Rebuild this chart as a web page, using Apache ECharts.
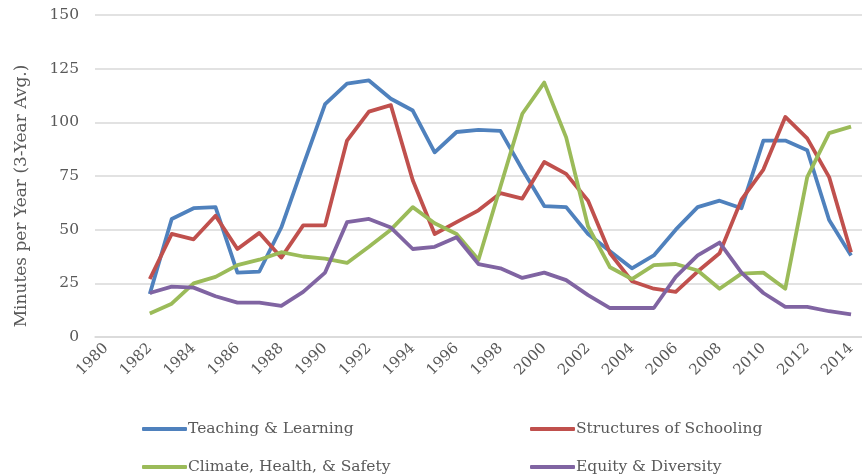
<!DOCTYPE html>
<html>
<head>
<meta charset="utf-8">
<script src="https://cdn.jsdelivr.net/npm/echarts@6/dist/echarts.min.js"></script>
<style>
  html, body { margin: 0; padding: 0; background: #fff; }
  #chart { width: 862px; height: 475px; }
</style>
</head>
<body>
<div id="chart"></div>
<script>
// years on the axis (data starts in 1982)
var years = [];
for (var y = 1980; y <= 2014; y++) years.push(String(y));

var teaching = [null, null,
  20, 55, 60, 60.5, 30, 30.5, 51, 80, 108.5, 118, 119.5, 111, 105.5, 86, 95.5, 96.5, 96,
  78, 61, 60.5, 48, 40, 32, 38, 50, 60.5, 63.5, 60, 91.5, 91.5, 87, 54.5, 38];
var structures = [null, null,
  27, 48, 45.5, 56.5, 41, 48.5, 37, 52, 52, 91.5, 105, 108, 73, 48, 53.5, 59, 67,
  64.5, 81.5, 76, 63.5, 39, 26, 22.5, 21, 30.5, 39, 64, 78, 102.5, 92.5, 74.5, 39.5];
var climate = [null, null,
  11, 15.5, 25, 28, 33.5, 36, 39.5, 37.5, 36.5, 34.5, 42, 50, 60.5, 53, 48, 36, 70,
  104, 118.5, 93, 51.5, 32.5, 27, 33.5, 34, 31, 22.5, 29.5, 30, 22.5, 74.5, 95, 98];
var equity = [null, null,
  20.5, 23.5, 23, 19, 16, 16, 14.5, 21, 30, 53.5, 55, 51, 41, 42, 46.5, 34, 32,
  27.5, 30, 26.5, 19.5, 13.5, 13.5, 13.5, 28, 38, 44, 30, 20.5, 14, 14, 12, 10.5];

var names = ['Teaching & Learning', 'Structures of Schooling',
             'Climate, Health, & Safety', 'Equity & Diversity'];
var colors = ['#4f81bd', '#c0504d', '#9bbb59', '#8064a2'];

var font = 'DejaVu Serif';
var txt = '#595959';

function legendAt(name, left, top) {
  return {
    data: [name],
    left: left, top: top,
    icon: 'roundRect',
    itemWidth: 45, itemHeight: 4,
    itemGap: 0,
    textStyle: { fontFamily: font, fontSize: 15.5, color: txt, padding: [0, 0, 0, -4] }
  };
}

function line(i, data) {
  return {
    name: names[i],
    type: 'line',
    data: data,
    symbol: 'none',
    connectNulls: false,
    lineStyle: { width: 3.8, color: colors[i], join: 'round' },
    itemStyle: { color: colors[i] }
  };
}

var chart = echarts.init(document.getElementById('chart'));
chart.setOption({
  animation: false,
  backgroundColor: '#ffffff',
  grid: { left: 95, top: 15, width: 776, bottom: 138, containLabel: false },
  legend: [
    legendAt(names[0], 137, 416),
    legendAt(names[1], 525, 416),
    legendAt(names[2], 137, 454),
    legendAt(names[3], 525, 454)
  ],
  graphic: [{
    type: 'text',
    x: 22, y: 196,
    rotation: Math.PI / 2,
    style: {
      text: 'Minutes per Year (3-Year Avg.)',
      fontFamily: font, fontSize: 17, fill: txt,
      align: 'center', verticalAlign: 'middle'
    }
  }],
  xAxis: {
    type: 'category',
    data: years,
    boundaryGap: true,
    axisLine: { lineStyle: { color: '#d9d9d9', width: 1.5 } },
    axisTick: { show: false },
    axisLabel: {
      interval: 1,
      rotate: 45,
      margin: 9,
      fontFamily: font, fontSize: 15, color: txt
    }
  },
  yAxis: {
    type: 'value',
    min: 0, max: 150, interval: 25,
    axisLine: { show: false },
    axisTick: { show: false },
    axisLabel: { margin: 16, fontFamily: font, fontSize: 15.5, color: txt },
    splitLine: { lineStyle: { color: '#d9d9d9', width: 1.5 } }
  },
  series: [
    line(0, teaching),
    line(1, structures),
    line(2, climate),
    line(3, equity)
  ]
});
</script>
</body>
</html>
